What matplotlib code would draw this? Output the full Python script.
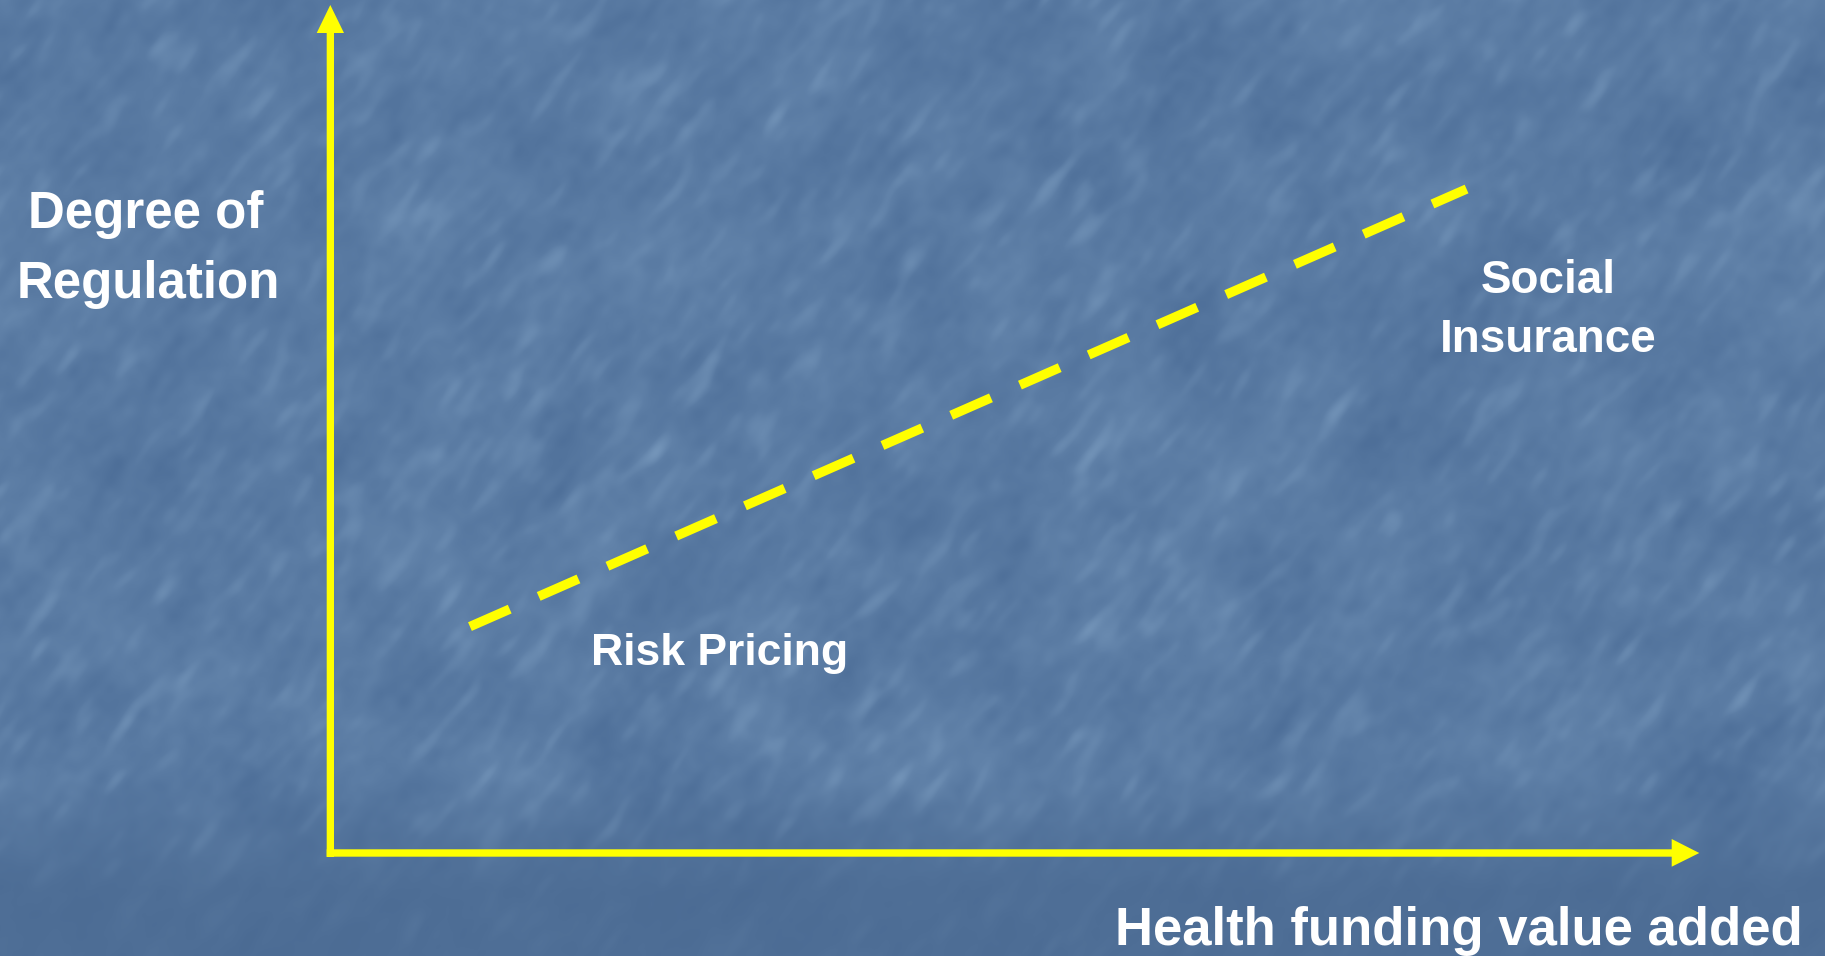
import numpy as np
import matplotlib
matplotlib.use("Agg")
import matplotlib.pyplot as plt
from matplotlib.patches import Polygon

# Conceptual positioning: funding value added (x) vs degree of regulation (y), 0-100 scale
funding_value = [10.2, 83.0]
regulation = [26.7, 78.3]
x_label = "Health funding value added"
y_label_lines = ["Degree of", "Regulation"]
low_label = "Risk Pricing"
high_label_lines = ["Social", "Insurance"]

W, H = 1825, 956
YELLOW = "#FFFF00"
FONT = "Liberation Sans"

# ---- textured blue backdrop ----
rng = np.random.default_rng(11)
yy = np.arange(H)[:, None] * np.ones((1, W))


def streaks(scale_u, scale_v, angle):
    noise = rng.standard_normal((H, W))
    fy = np.fft.fftfreq(H)[:, None]
    fx = np.fft.fftfreq(W)[None, :]
    t = np.deg2rad(angle)
    u = fx * np.cos(t) + fy * np.sin(t)
    v = -fx * np.sin(t) + fy * np.cos(t)
    filt = np.exp(-((u / scale_u) ** 2 + (v / scale_v) ** 2))
    out = np.real(np.fft.ifft2(np.fft.fft2(noise) * filt))
    return out / out.std()


fine = streaks(0.018, 0.05, -52)
grain = streaks(0.05, 0.05, 0)
blotch = streaks(0.008, 0.008, 0)
light = (np.clip(fine - 0.7, 0, None) * 0.55 + 0.3 * fine
         + 0.15 * grain + 0.35 * blotch)

top_rgb = np.array([90, 123, 163], float)
bot_rgb = np.array([78, 110, 150], float)
frac = np.clip((yy - 780) / 110.0, 0, 1)
weight = 1 - 0.75 * frac
img = np.empty((H, W, 3))
for c in range(3):
    base = top_rgb[c] * (1 - frac) + bot_rgb[c] * frac
    img[:, :, c] = base + weight * light * (7 if c < 2 else 6)
img = np.clip(img, 0, 255) / 255.0

fig = plt.figure(figsize=(W / 100, H / 100), dpi=100)
bg = fig.add_axes([0, 0, 1, 1])
bg.imshow(img, extent=(0, W, H, 0), interpolation="bilinear", zorder=0)
bg.set_xlim(0, W)
bg.set_ylim(H, 0)
bg.axis("off")

# ---- yellow axis arrows ----
y_arrow = [(326.7, 857), (326.7, 33), (316.7, 33), (330.3, 5), (344.0, 33),
           (334.0, 33), (334.0, 857)]
x_arrow = [(326.7, 849.3), (1671.7, 849.3), (1671.7, 839.0), (1699.3, 853.0),
           (1671.7, 866.7), (1671.7, 856.7), (326.7, 856.7)]
for pts in (y_arrow, x_arrow):
    bg.add_patch(Polygon(pts, closed=True, facecolor=YELLOW, edgecolor="none", zorder=3))

# ---- data axes anchored at the arrow origin ----
ax = fig.add_axes([330.3 / W, (H - 853.0) / H, (1699.3 - 330.3) / W, (853.0 - 5) / H])
ax.set_xlim(0, 100)
ax.set_ylim(0, 100)
ax.axis("off")
ax.patch.set_alpha(0)
line, = ax.plot(funding_value, regulation, color=YELLOW, linewidth=6.8,
                solid_capstyle="butt", dash_capstyle="butt", zorder=4)
line.set_dashes((4.6, 3.35))

# ---- labels ----
txt = dict(color="white", fontweight="bold", family=FONT)
bg.text(146, 228, y_label_lines[0], fontsize=36.7, ha="center", va="baseline", **txt)
bg.text(148, 298, y_label_lines[1], fontsize=36.7, ha="center", va="baseline", **txt)
bg.text(1548, 293, high_label_lines[0], fontsize=33, ha="center", va="baseline", **txt)
bg.text(1548, 352, high_label_lines[1], fontsize=33, ha="center", va="baseline", **txt)
bg.text(720, 665, low_label, fontsize=32, ha="center", va="baseline", **txt)
bg.text(1803, 945, x_label, fontsize=38, ha="right", va="baseline", **txt)

fig.savefig("out.png", dpi=100)
